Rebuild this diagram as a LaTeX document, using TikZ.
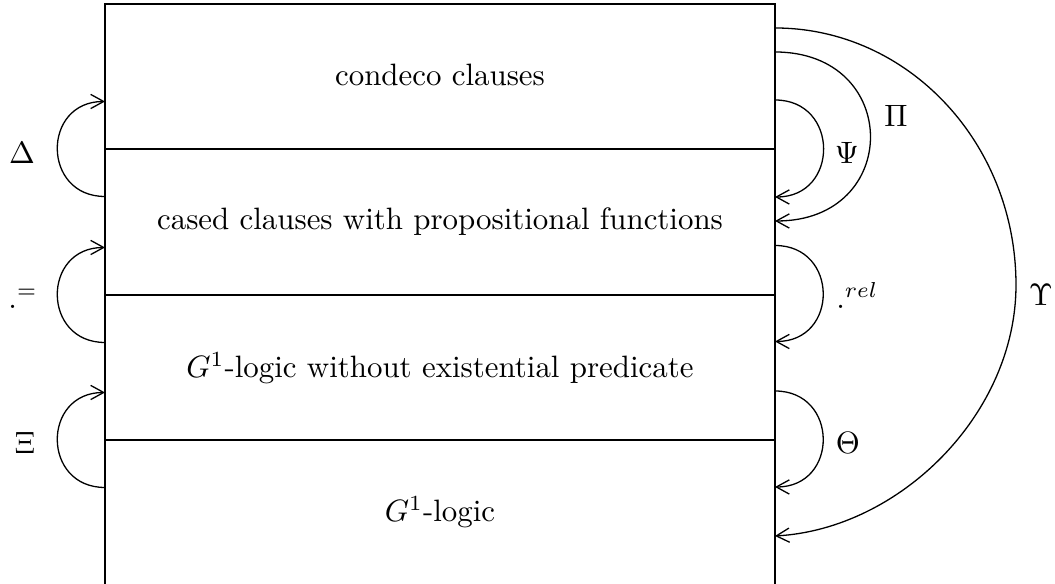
\documentclass[tikz,border=0pt]{standalone}
\usetikzlibrary{arrows.meta}
\begin{document}
\begin{tikzpicture}[x=0.3236pt,y=0.3236pt,
  every node/.style={font=\fontsize{10}{12}\selectfont, inner sep=0pt},
  boxline/.style={line width=0.55pt},
  loopline/.style={line width=0.42pt, -{Straight Barb[length=4.2pt,width=4.6pt,line width=0.42pt]}},
  layertext/.style={anchor=center}]
\useasboundingbox (0,0) rectangle (1055,584);
% frame
\coordinate (BL) at (105,0);
\coordinate (TL) at (105,580);
\coordinate (TR) at (775,580);
\coordinate (BR) at (775,0);
\draw[boxline] (BL) -- (TL) -- (TR) -- (BR);
% dividers
\coordinate (D1L) at (105,435); \coordinate (D1R) at (775,435);
\coordinate (D2L) at (105,289); \coordinate (D2R) at (775,289);
\coordinate (D3L) at (105,144); \coordinate (D3R) at (775,144);
\draw[boxline] (D1L) -- (D1R);
\draw[boxline] (D2L) -- (D2R);
\draw[boxline] (D3L) -- (D3R);
% layer texts
\node[layertext] (L1) at (440,509) {condeco clauses};
\node[layertext] (L2) at (440,362) {cased clauses with propositional functions};
\node[layertext] (L3) at (440,216) {$G^1$-logic without existential predicate};
\node[layertext] (L4) at (440,72) {$G^1$-logic};
% left loops
\coordinate (dS) at (105,387.5); \coordinate (dE) at (105,482.5);
\coordinate (eS) at (105,241.5); \coordinate (eE) at (105,336.5);
\coordinate (xS) at (105,96.5);  \coordinate (xE) at (105,191.5);
\draw[loopline] (dS) .. controls +(-63.3,0) and +(-63.3,0) .. (dE);
\draw[loopline] (eS) .. controls +(-63.3,0) and +(-63.3,0) .. (eE);
\draw[loopline] (xS) .. controls +(-63.3,0) and +(-63.3,0) .. (xE);
\node (delta) at (22,431) {$\Delta$};
\node[anchor=base west] (eqlbl) at (7.8,275.4) {$.^{=}$};
\node (xi) at (25,141) {$\Xi$};
% right loops
\coordinate (psS) at (775,484); \coordinate (psE) at (775,387);
\coordinate (rS) at (775,338.5); \coordinate (rE) at (775,242.5);
\coordinate (thS) at (775,193); \coordinate (thE) at (775,97);
\draw[loopline] (psS) .. controls +(64.5,0) and +(64.5,0) .. (psE);
\draw[loopline] (rS) .. controls +(64,0) and +(64,0) .. (rE);
\draw[loopline] (thS) .. controls +(64,0) and +(64,0) .. (thE);
\node (psi) at (847,431) {$\Psi$};
\node[anchor=base west] (rellbl) at (835.8,275.4) {$.^{rel}$};
\node (theta) at (848,141) {$\Theta$};
% Pi loop
\coordinate (piS) at (775,532); \coordinate (piE) at (775,363);
\draw[loopline] (piS) .. controls +(127,0) and +(127,0) .. (piE);
\node (pi) at (896,468) {$\Pi$};
% Upsilon loop
\coordinate (uS) at (775,556); \coordinate (uM) at (1016,299); \coordinate (uE) at (775,48);
\draw[loopline] (uS) .. controls (908,556) and (1016,441) .. (uM)
                     .. controls (1016,170) and (900,55) .. (uE);
\node (ups) at (1041,289) {$\Upsilon$};
\end{tikzpicture}
\end{document}
